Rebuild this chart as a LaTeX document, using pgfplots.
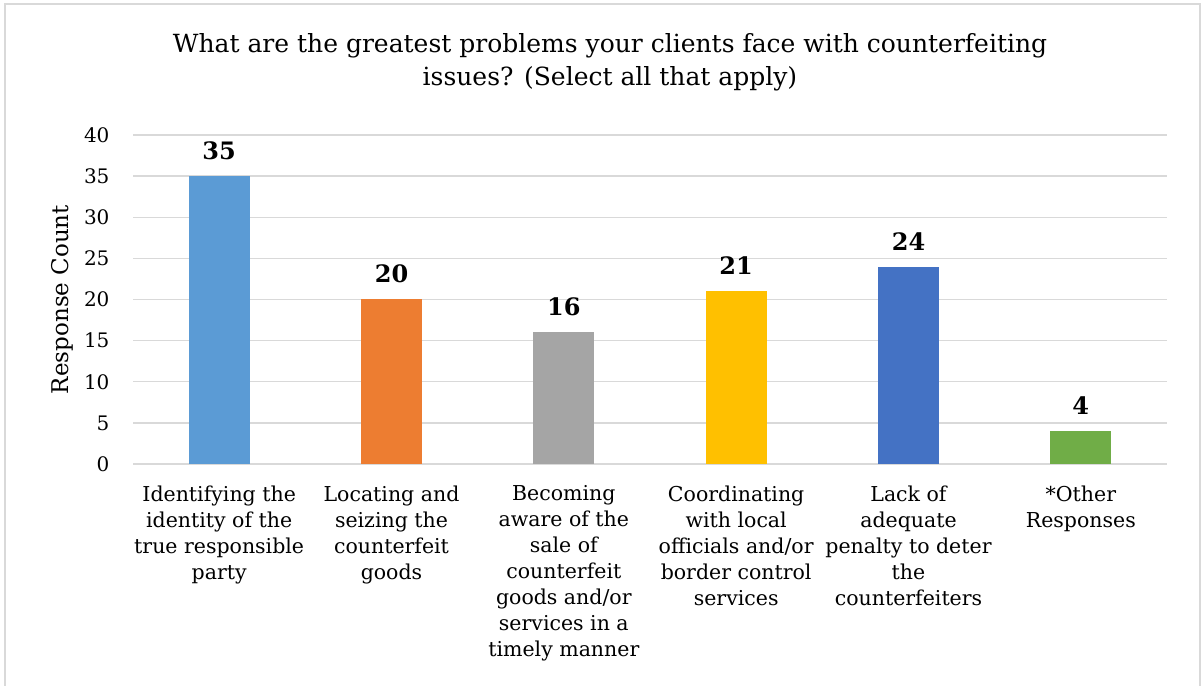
\documentclass[border=0pt]{standalone}
\usepackage{fontspec}
\setmainfont{DejaVu Serif}
\usepackage{pgfplots}
\pgfplotsset{compat=1.18}
\definecolor{gridc}{HTML}{D9D9D9}
\definecolor{c1}{HTML}{5B9BD5}
\definecolor{c2}{HTML}{ED7D31}
\definecolor{c3}{HTML}{A5A5A5}
\definecolor{c4}{HTML}{FFC000}
\definecolor{c5}{HTML}{4472C4}
\definecolor{c6}{HTML}{70AD47}
\begin{document}
\begin{tikzpicture}
\useasboundingbox (0pt,0pt) rectangle (1204pt,685pt);
\draw[gridc, line width=2pt] (5pt,-5pt) -- (5pt,681pt) -- (1200pt,681pt) -- (1200pt,-5pt);
\node[align=center, font=\fontsize{25}{33}\selectfont] at (610pt,623pt) {What are the greatest problems your clients face with counterfeiting\\issues? (Select all that apply)};
\coordinate (A) at (133pt,221pt);
\begin{axis}[
  at={(A)}, anchor=south west, scale only axis,
  width=1034pt, height=329pt,
  xmin=-0.5, xmax=5.5, ymin=0, ymax=40,
  ytick={0,5,...,40},
  xtick={0,1,2,3,4,5},
  xticklabels={{Identifying the\\identity of the\\true responsible\\party},
               {Locating and\\seizing the\\counterfeit\\goods},
               {Becoming\\aware of the\\sale of\\counterfeit\\goods and/or\\services in a\\timely manner},
               {Coordinating\\with local\\officials and/or\\border control\\services},
               {Lack of\\adequate\\penalty to deter\\the\\counterfeiters},
               {*Other\\Responses}},
  x tick label style={align=center, font=\fontsize{20.5}{26}\selectfont, yshift=-18pt},
  y tick label style={font=\fontsize{20}{22}\selectfont, xshift=-20pt},
  /pgf/number format/assume math mode=true,
  ymajorgrids, grid style={gridc, line width=1.3pt},
  axis line style={draw=none},
  major tick length=0pt,
  ylabel={Response Count},
  every axis y label/.style={at={(axis description cs:-0.0687,0.5)}, anchor=center, rotate=90, font=\fontsize{23}{24}\selectfont},
  ybar, bar width=61pt, bar shift=0pt,
  nodes near coords,
  every node near coord/.append style={font=\bfseries\fontsize{24}{24}\selectfont, yshift=13pt},
]
\addplot[fill=c1, draw=none] coordinates {(0,35)};
\addplot[fill=c2, draw=none] coordinates {(1,20)};
\addplot[fill=c3, draw=none] coordinates {(2,16)};
\addplot[fill=c4, draw=none] coordinates {(3,21)};
\addplot[fill=c5, draw=none] coordinates {(4,24)};
\addplot[fill=c6, draw=none] coordinates {(5,4)};
\end{axis}
\end{tikzpicture}
\end{document}
